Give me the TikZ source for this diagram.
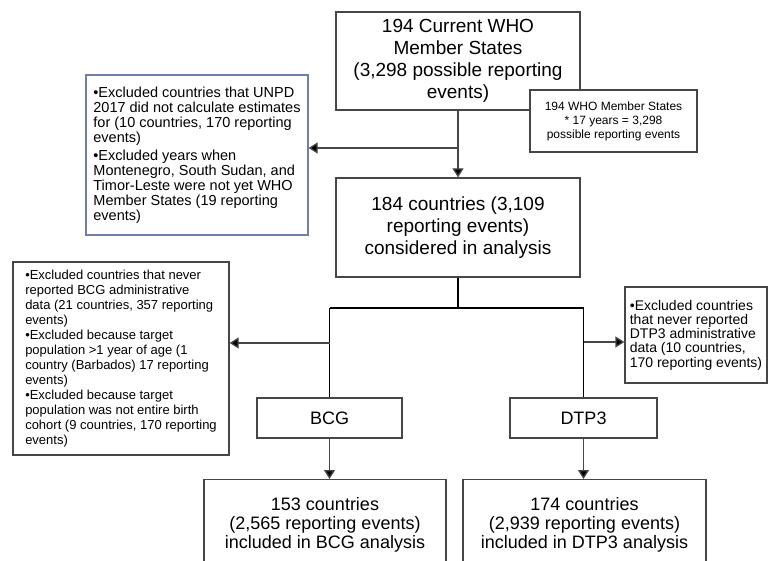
\documentclass[tikz,border=0pt]{standalone}
\usepackage{fontspec}
\setmainfont{Liberation Sans}
\usetikzlibrary{positioning,calc,arrows.meta}
\definecolor{exblue}{RGB}{112,126,168}
\definecolor{lgray}{RGB}{70,70,70}

\begin{document}
\begin{tikzpicture}[x=1pt,y=-1pt,line width=1.3pt,
  box/.style={draw=lgray,fill=white,align=center,inner sep=0pt},
  excl/.style={draw=lgray,fill=white,align=left,inner sep=0pt},
  arr/.style={draw=lgray,-{Triangle[width=11pt,length=9pt,fill=black]}}]
\clip (0,0) rectangle (768,561);
%\draw[help lines] (0,0) grid[step=50] (768,561);
\node[box,minimum width=244,minimum height=98,font=\fontsize{19}{22}\selectfont] (top) at (458,61)
  {194 Current WHO\\Member States\\(3,298 possible reporting\\events)};
\node[box,minimum width=167,minimum height=62,font=\fontsize{12}{14}\selectfont] (note) at (613.5,121)
  {194 WHO Member States\\* 17 years = 3,298\\possible reporting events};
\node[excl,draw=exblue,minimum width=222,minimum height=160,font=\fontsize{14.5}{15}\selectfont] (exclA) at (197,155)
  {•Excluded countries that UNPD\\2017 did not calculate estimates\\for (10 countries, 170 reporting\\events)\\[3pt]
   •Excluded years when\\Montenegro, South Sudan, and\\Timor-Leste were not yet WHO\\Member States (19 reporting\\events)};
\node[box,minimum width=244,minimum height=99,font=\fontsize{19}{22}\selectfont] (consid) at (458,227.5)
  {184 countries (3,109\\reporting events)\\considered in analysis};
\node[excl,minimum width=216,minimum height=193,font=\fontsize{13}{15}\selectfont] (exclB) at (121,358.5)
  {•Excluded countries that never\\reported BCG administrative\\data (21 countries, 357 reporting\\events)\\
   •Excluded because target\\population >1 year of age (1\\country (Barbados) 17 reporting\\events)\\
   •Excluded because target\\population was not entire birth\\cohort (9 countries, 170 reporting\\events)};
\node[excl,minimum width=142,minimum height=96,font=\fontsize{14}{14.3}\selectfont] (exclD) at (696,335)
  {•Excluded countries\\that never reported\\DTP3 administrative\\data (10 countries,\\170 reporting events)};
\node[box,minimum width=145,minimum height=40,font=\fontsize{18}{20}\selectfont] (bcg) at (329.5,418) {BCG};
\node[box,minimum width=147,minimum height=40,font=\fontsize{18}{20}\selectfont] (dtp) at (583.5,418) {DTP3};
\node[box,anchor=north,minimum width=242,minimum height=90,font=\fontsize{18}{19}\selectfont] (resB) at (325,479)
  {153 countries\\(2,565 reporting events)\\included in BCG analysis};
\node[box,anchor=north,minimum width=243,minimum height=90,font=\fontsize{18}{19}\selectfont] (resD) at (584.5,479)
  {174 countries\\(2,939 reporting events)\\included in DTP3 analysis};
% connectors
\coordinate (jA) at (458,148);
\coordinate (fork) at (458,308);
\coordinate (jB) at (bcg.north |- 0,343);
\coordinate (jD) at (dtp.north |- 0,342);
\draw[arr] (top.south) -- (consid.north);
\draw[arr] (jA) -- (jA -| exclA.east);
\draw (consid.south) -- (fork);
\draw (fork -| bcg.north) -- (fork -| dtp.north);
\draw (fork -| bcg.north) -- (bcg.north);
\draw (fork -| dtp.north) -- (dtp.north);
\draw[arr] (jB) -- (jB -| exclB.east);
\draw[arr] (jD) -- (jD -| exclD.west);
\draw[arr] (bcg.south) -- (resB.north -| bcg.south);
\draw[arr] (dtp.south) -- (resD.north -| dtp.south);
\end{tikzpicture}
\end{document}
